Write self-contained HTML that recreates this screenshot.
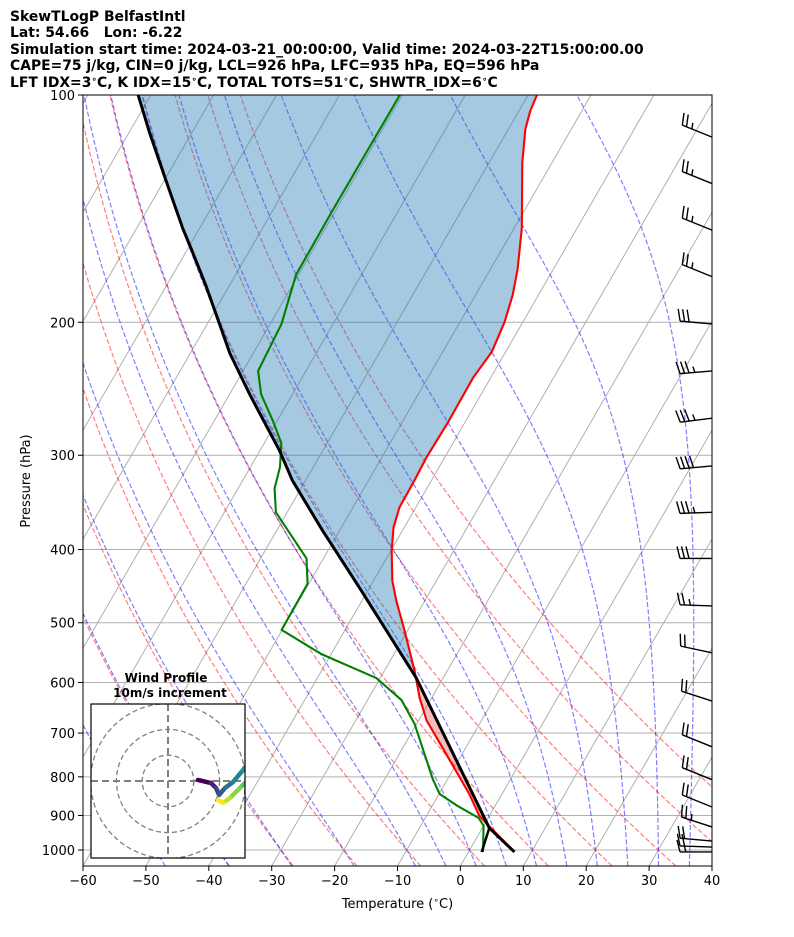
<!DOCTYPE html>
<html><head><meta charset="utf-8">
<style>
html,body{margin:0;padding:0;background:#fff;}
svg{display:block;font-family:"DejaVu Sans","Liberation Sans",sans-serif;}
</style></head>
<body>
<svg id="chart" width="794" height="937" viewBox="0 0 794 937" xmlns="http://www.w3.org/2000/svg">
  <g font-weight="bold" font-size="13.9" fill="#000" style="white-space:pre">
    <text x="10" y="21">SkewTLogP BelfastIntl</text>
    <text x="10" y="37" xml:space="preserve">Lat: 54.66   Lon: -6.22</text>
    <text x="10" y="54">Simulation start time: 2024-03-21_00:00:00, Valid time: 2024-03-22T15:00:00.00</text>
    <text x="10" y="70">CAPE=75 j/kg, CIN=0 j/kg, LCL=926 hPa, LFC=935 hPa, EQ=596 hPa</text>
    <text x="10" y="87">LFT IDX=3<tspan font-size="9" dy="-5">∘</tspan><tspan dy="5">C, K IDX=15</tspan><tspan font-size="9" dy="-5">∘</tspan><tspan dy="5">C, TOTAL TOTS=51</tspan><tspan font-size="9" dy="-5">∘</tspan><tspan dy="5">C, SHWTR_IDX=6</tspan><tspan font-size="9" dy="-5">∘</tspan><tspan dy="5">C</tspan></text>
  </g>
  <defs>
    <clipPath id="plotclip"><rect x="83" y="95" width="629" height="771"/></clipPath>
    <clipPath id="hodoclip"><rect x="91" y="704" width="154" height="154"/></clipPath>
  </defs>
  <g id="plot" clip-path="url(#plotclip)"></g>
  <g id="axes"></g>
  <g id="barbs"></g>
  <g id="hodo"></g>
</svg>
<script>
// ---- data ----
const P_ENV=[1006,924,901,843,732,674,629,579,512,468,440,401,374,352,324,302,272,237,219,200,184,170,150,123,111,105,100];
const T_ENV=[7.3,0.4,-1.6,-5.2,-13.7,-18.7,-21.9,-25.2,-30.5,-34.5,-37.0,-39.9,-41.7,-42.6,-42.7,-42.9,-42.7,-42.8,-42.2,-42.9,-44.1,-45.7,-48.8,-54.7,-57.3,-58.2,-58.6];
const P_DEW=[1006,929,907,874,843,805,746,681,633,592,550,511,444,411,357,332,311,289,270,249,232,201,173,142,100];
const T_DEW=[2.3,0.0,-1.5,-6.0,-9.9,-12.4,-16.0,-20.3,-24.6,-30.6,-41.6,-50.1,-50.2,-52.7,-61.8,-64.2,-65.3,-67.3,-70.7,-75.0,-77.6,-78.2,-80.4,-80.5,-80.4];
const P_PARCEL=[1006,935,591.5,450,377.5,324,295.7,250,219.9,200,178.6,160,150.1,128.8,112,100];
const T_PARCEL=[7.3,1.1,-24.3,-41.5,-52.7,-62.1,-66.9,-76.6,-83.7,-88.3,-93.8,-99.4,-102.7,-110.1,-116.8,-122.0];
const P_LCLLEG=[1006,935];
const T_LCLLEG=[2.1,1.1];
const X_TICKS=[-60,-50,-40,-30,-20,-10,0,10,20,30,40];
const X_TICK_LABELS=["−60","−50","−40","−30","−20","−10","0","10","20","30","40"];
const P_TICKS=[100,200,300,400,500,600,700,800,900,1000];
const P_TICK_LABELS=["100","200","300","400","500","600","700","800","900","1000"];
const DRY_T0=[-40,-30,-20,-10,0,10,20,30,40,50];
const MOIST_T0=[-50,-40,-30,-20,-10,-5,0,5,10,15,20,25,30,35,40,45];
const BARB_P=[113.7,131,151,174,201,232,268,310,357,411,475,548,635,730,807,877,932,973,991,1006];
const BARB_SPD=[25,25,25,25,30,35,35,40,35,30,25,20,20,20,20,20,25,20,20,15];
const BARB_DIR=[292,292,292,292,275,265,263,265,268,270,272,282,288,292,292,292,288,275,272,270];
const HODO_U=[11.6,16.7,18.6,19.8,22.1,25.2,29.1,31.8,31.8,27.9,24.0,21.3,19.4];
const HODO_V=[0.4,-0.8,-2.7,-5.4,-2.7,-0.4,4.3,8.1,1.2,-2.7,-6.6,-8.5,-7.4];

// ---- axes functions ----
const X0=83,X1=712,Y0=95,Y1=866,PMAX=1050,PMIN=100,SK=Math.tan(30*Math.PI/180);
function yOf(p){return Y0+(Y1-Y0)*Math.log(p/PMIN)/Math.log(PMAX/PMIN);}
function xOf(T,p){return X0+(T+60)*(X1-X0)/100+(Y1-yOf(p))*SK;}
const NS="http://www.w3.org/2000/svg";
function mk(tag,attrs,parent){const e=document.createElementNS(NS,tag);for(const k in attrs)e.setAttribute(k,attrs[k]);parent.appendChild(e);return e;}
function pathFrom(ps,ts){return ps.map((p,i)=>(i?'L':'M')+xOf(ts[i],p).toFixed(2)+','+yOf(p).toFixed(2)).join('');}
function interp(ps,ts,p){
  for(let i=0;i<ps.length-1;i++){
    const a=ps[i],b=ps[i+1];
    if((p<=a&&p>=b)){const f=(Math.log(p)-Math.log(a))/(Math.log(b)-Math.log(a));return ts[i]+f*(ts[i+1]-ts[i]);}
  }
  return p>ps[0]?ts[0]:ts[ts.length-1];
}
const plot=document.getElementById('plot');
const axes=document.getElementById('axes');

// isotherms
for(let T=-200;T<=40;T+=10){
  const l=mk('line',{x1:xOf(T,PMAX),y1:Y1,x2:xOf(T,PMIN),y2:Y0,stroke:'#b0b0b0','stroke-width':1},plot);
  
  
}
// pressure gridlines
P_TICKS.forEach(p=>{
  const l=mk('line',{x1:X0,y1:yOf(p),x2:X1,y2:yOf(p),stroke:'#b0b0b0','stroke-width':1},plot);
  
  
});
// dry adiabats
const levels=[];for(let p=PMAX;p>=PMIN-0.01;p-=10)levels.push(p);
DRY_T0.forEach(t0=>{
  const ts=levels.map(p=>(t0+273.15)*Math.pow(p/1000,0.2857)-273.15);
  const e=mk('path',{d:pathFrom(levels,ts),fill:'none',stroke:'#ff0000','stroke-opacity':0.5,'stroke-width':1.2,'stroke-dasharray':'5,2.2'},plot);
  
  
});
// moist adiabats
function dTdp(T,p){const Rd=287.04,cp=1005.7,Lv=2.501e6,eps=0.622;
  const es=6.112*Math.exp(17.67*(T-273.15)/(T-29.65));const rs=eps*es/Math.max(p-es,1);
  return (Rd*T+Lv*rs)/(p*(cp+Lv*Lv*rs*eps/(Rd*T*T)));}
function moistProfile(t0){
  const up=[[1000,t0+273.15]];let T=t0+273.15,p=1000;
  while(p>PMIN){const dp=-Math.min(5,p-PMIN);const k1=dTdp(T,p);const k2=dTdp(T+k1*dp/2,p+dp/2);T+=k2*dp;p+=dp;up.push([p,T]);}
  T=t0+273.15;p=1000;const dn=[];
  while(p<PMAX){const dp=5;const k1=dTdp(T,p);const k2=dTdp(T+k1*dp/2,p+dp/2);T+=k2*dp;p+=dp;dn.unshift([p,T]);}
  return dn.concat(up);
}
MOIST_T0.forEach(t0=>{
  const pr=moistProfile(t0);
  const e=mk('path',{d:pathFrom(pr.map(a=>a[0]),pr.map(a=>a[1]-273.15)),fill:'none',stroke:'#0000ff','stroke-opacity':0.5,'stroke-width':1.2,'stroke-dasharray':'5,2.2'},plot);
  
  
});
// shading
(function(){
  const ps=[];for(let i=0;i<=300;i++)ps.push(926*Math.pow(PMIN/926,i/300));
  const env=ps.map(p=>interp(P_ENV,T_ENV,p)), par=ps.map(p=>interp(P_PARCEL,T_PARCEL,p));
  const top=ps.map((p,i)=>Math.max(env[i],par[i]));
  let d='';ps.forEach((p,i)=>{d+=(i?'L':'M')+xOf(top[i],p).toFixed(2)+','+yOf(p).toFixed(2);});
  for(let i=ps.length-1;i>=0;i--)d+='L'+xOf(par[i],ps[i]).toFixed(2)+','+yOf(ps[i]).toFixed(2);
  const b=mk('path',{d:d+'Z',fill:'#1f77b4','fill-opacity':0.4,stroke:'none'},plot);
  
  
  let d2='';ps.forEach((p,i)=>{d2+=(i?'L':'M')+xOf(top[i],p).toFixed(2)+','+yOf(p).toFixed(2);});
  for(let i=ps.length-1;i>=0;i--)d2+='L'+xOf(env[i],ps[i]).toFixed(2)+','+yOf(ps[i]).toFixed(2);
  const r=mk('path',{d:d2+'Z',fill:'#d62728','fill-opacity':0.3,stroke:'none'},plot);
  
  
})();
// series
const envL=mk('path',{d:pathFrom(P_ENV,T_ENV),fill:'none',stroke:'#ff0000','stroke-width':2.1,'stroke-linejoin':'round'},plot);


const dewL=mk('path',{d:pathFrom(P_DEW,T_DEW),fill:'none',stroke:'#008000','stroke-width':2.1,'stroke-linejoin':'round'},plot);


const parL=mk('path',{d:pathFrom(P_PARCEL,T_PARCEL),fill:'none',stroke:'#000','stroke-width':3,'stroke-linejoin':'round'},plot);


const lclL=mk('path',{d:pathFrom(P_LCLLEG,T_LCLLEG),fill:'none',stroke:'#000','stroke-width':2.5},plot);



// spine & ticks
const sp=mk('rect',{x:X0,y:Y0,width:X1-X0,height:Y1-Y0,fill:'none',stroke:'#000','stroke-width':1},axes);


X_TICKS.forEach((T,i)=>{
  const x=X0+(T+60)*(X1-X0)/100;
  const t=mk('line',{x1:x,y1:Y1,x2:x,y2:Y1+5,stroke:'#000','stroke-width':1},axes);
  
  
  const l=mk('text',{x:x,y:Y1+19,'text-anchor':'middle','font-size':13},axes);
  l.textContent=X_TICK_LABELS[i];
  
  
});
P_TICKS.forEach((p,i)=>{
  const y=yOf(p);
  const t=mk('line',{x1:X0-5,y1:y,x2:X0,y2:y,stroke:'#000','stroke-width':1},axes);
  
  
  const l=mk('text',{x:X0-8,y:y+5,'text-anchor':'end','font-size':13},axes);
  l.textContent=P_TICK_LABELS[i];
  
  
});
const xt=mk('text',{x:(X0+X1)/2,y:908,'text-anchor':'middle','font-size':13},axes);
xt.innerHTML='Temperature (<tspan font-size="9" dy="-5">∘</tspan><tspan dy="5">C)</tspan>';


const yt=mk('text',{x:0,y:0,'text-anchor':'middle','font-size':13,transform:'translate(30,481) rotate(-90)'},axes);
yt.textContent='Pressure (hPa)';



// wind barbs
const barbs=document.getElementById('barbs');
BARB_P.forEach((p,i)=>{
  const bx=712,by=yOf(p);
  const a=BARB_DIR[i]*Math.PI/180;
  const vx=Math.sin(a), vy=-Math.cos(a); // screen unit vector toward wind source
  const L=32;
  const ex=bx+vx*L, ey=by+vy*L;
  const g=mk('g',{stroke:'#000','stroke-width':1.4,fill:'none'},barbs);
  
  
  mk('line',{x1:bx,y1:by,x2:ex,y2:ey},g);
  let px=-vy, py=vx; if(py>0){px=-px;py=-py;}
  let s=BARB_SPD[i];let k=0;
  while(s>=10){const ox=ex-vx*k*4.5,oy=ey-vy*k*4.5;
    mk('line',{x1:ox,y1:oy,x2:ox+px*12+vx*3,y2:oy+py*12+vy*3},g);s-=10;k++;}
  if(s>=5){const ox=ex-vx*(k+0.3)*4.5,oy=ey-vy*(k+0.3)*4.5;
    mk('line',{x1:ox,y1:oy,x2:ox+px*6+vx*1.5,y2:oy+py*6+vy*1.5},g);}
});

// hodograph
const hodo=document.getElementById('hodo');
const HC={x:168,y:781},HS=2.58;
const bg=mk('rect',{x:91,y:704,width:154,height:154,fill:'#fff',stroke:'none'},hodo);


const hg=mk('g',{'clip-path':'url(#hodoclip)'},hodo);
[10,20,30].forEach(r=>{
  const c=mk('circle',{cx:HC.x,cy:HC.y,r:r*HS,fill:'none',stroke:'#808080','stroke-width':1.3,'stroke-dasharray':'5,3'},hg);
  
  
});
const hx=mk('line',{x1:91,y1:HC.y,x2:245,y2:HC.y,stroke:'#808080','stroke-width':2,'stroke-dasharray':'7,4'},hg);


const hy=mk('line',{x1:HC.x,y1:704,x2:HC.x,y2:858,stroke:'#808080','stroke-width':2,'stroke-dasharray':'7,4'},hg);


const VIR=[[68,1,84],[72,40,120],[62,74,137],[49,104,142],[38,130,142],[31,158,137],[53,183,121],[109,205,89],[180,222,44],[253,231,37]];
function vir(t){const f=t*(VIR.length-1);const i=Math.min(Math.floor(f),VIR.length-2);const r=f-i;
  const c=VIR[i].map((v,j)=>Math.round(v+(VIR[i+1][j]-v)*r));return 'rgb('+c.join(',')+')';}
for(let i=0;i<HODO_U.length-1;i++){
  const s=mk('line',{x1:HC.x+HODO_U[i]*HS,y1:HC.y-HODO_V[i]*HS,x2:HC.x+HODO_U[i+1]*HS,y2:HC.y-HODO_V[i+1]*HS,stroke:vir(i/(HODO_U.length-2)),'stroke-width':4.5,'stroke-linecap':'round'},hg);
  
  
}
const hb=mk('rect',{x:91,y:704,width:154,height:154,fill:'none',stroke:'#000','stroke-width':1.2},hodo);


const ht1=mk('text',{x:166,y:682,'text-anchor':'middle','font-size':12,'font-weight':'bold'},hodo);
ht1.textContent='Wind Profile';


const ht2=mk('text',{x:170,y:697,'text-anchor':'middle','font-size':12,'font-weight':'bold'},hodo);
ht2.textContent='10m/s increment';


</script>
</body></html>
